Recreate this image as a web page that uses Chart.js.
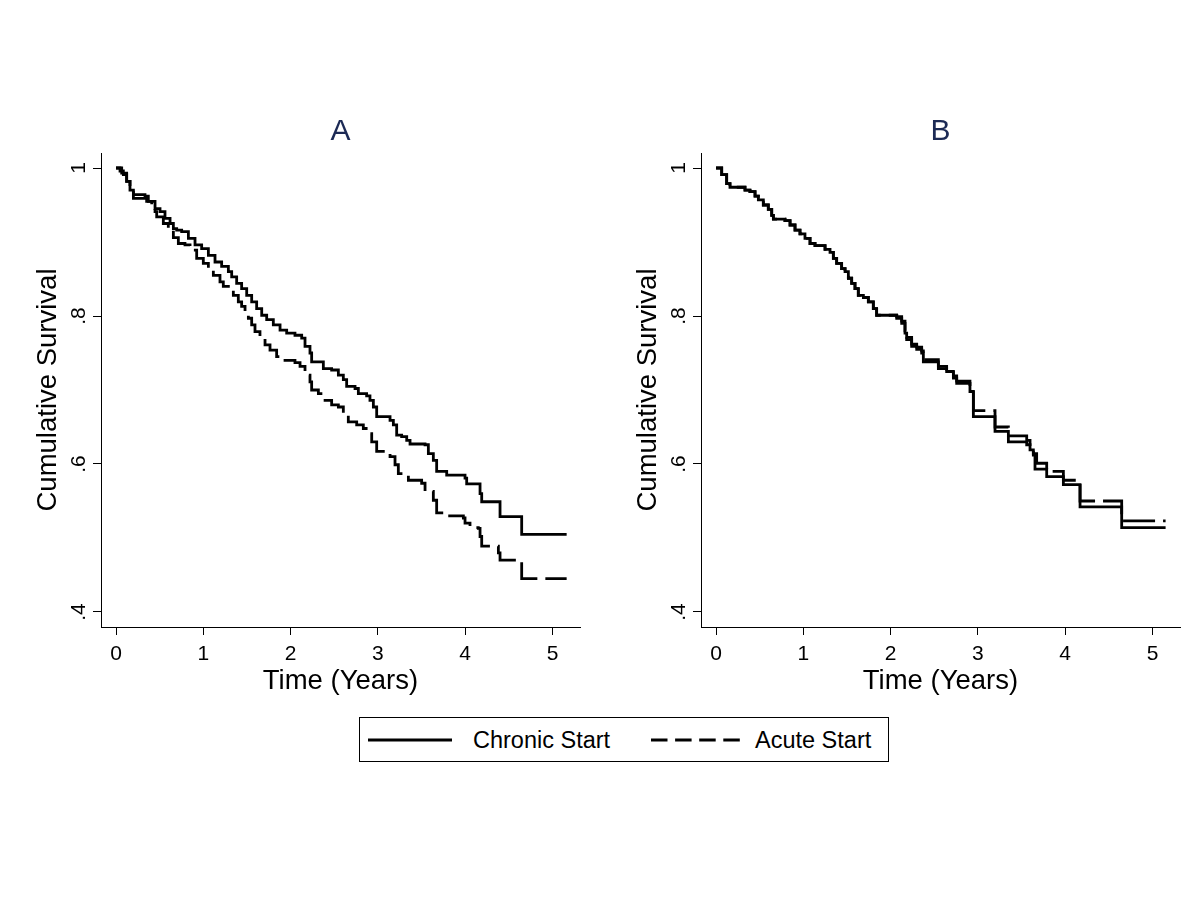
<!DOCTYPE html>
<html>
<head>
<meta charset="utf-8">
<script src="https://cdn.jsdelivr.net/npm/chart.js@4/dist/chart.umd.min.js"></script>
<style>
  html, body { margin:0; padding:0; background:#fff; }
  body { width:1200px; height:900px; position:relative; overflow:hidden; font-family:'Liberation Sans', Arial, Helvetica, sans-serif; }
  canvas { position:absolute; top:0; }
  #legend { position:absolute; left:359px; top:717px; width:530px; height:45px; box-sizing:border-box; border:1px solid #000; background:#fff; }
  #legend .txt { position:absolute; top:1px; height:43px; line-height:43px; font-size:23.5px; color:#000; white-space:nowrap; }
  #legend svg { position:absolute; top:0; }
</style>
</head>
<body>
<canvas id="cA" width="600" height="720" style="left:0"></canvas>
<canvas id="cB" width="600" height="720" style="left:600px"></canvas>
<div id="legend">
  <svg width="90" height="43" style="left:8px"><line id="lgSolid" x1="0" y1="22" x2="84" y2="22" stroke="#000" stroke-width="2.8"/></svg>
  <span class="txt" id="lgT1" style="left:113px"></span>
  <svg width="95" height="43" style="left:291px"><line id="lgDash" x1="0" y1="22" x2="89" y2="22" stroke="#000" stroke-width="2.8" stroke-dasharray="16.5 7.6"/></svg>
  <span class="txt" id="lgT2" style="left:395px"></span>
</div>
<script>
// ---------- data ----------
const panelTitles = ['A', 'B'];
const seriesNames = ['Chronic Start', 'Acute Start'];
const xTitle = 'Time (Years)';
const yTitle = 'Cumulative Survival';
const xTicks = [0, 1, 2, 3, 4, 5];
const xTickLabels = ['0', '1', '2', '3', '4', '5'];
const yTicks = [0.4, 0.6, 0.8, 1];
const yTickLabels = ['.4', '.6', '.8', '1'];

// Panel A — Chronic Start
const timeA_chronic = [0,0.065,0.122,0.160,0.199,0.332,0.370,0.447,0.504,0.561,0.619,0.657,0.695,0.752,0.829,0.905,0.981,1.058,1.134,1.210,1.287,1.325,1.382,1.439,1.497,1.554,1.611,1.669,1.726,1.802,1.879,1.955,2.050,2.127,2.165,2.222,2.241,2.375,2.470,2.547,2.604,2.642,2.738,2.776,2.871,2.909,2.948,2.986,3.139,3.177,3.215,3.272,3.330,3.368,3.540,3.578,3.635,3.673,3.788,3.998,4.017,4.170,4.189,4.399,4.647,5.162];
const survA_chronic = [1.000,0.993,0.982,0.970,0.964,0.962,0.955,0.945,0.941,0.932,0.925,0.918,0.916,0.914,0.905,0.896,0.891,0.882,0.873,0.867,0.860,0.853,0.844,0.837,0.828,0.819,0.810,0.801,0.795,0.788,0.781,0.777,0.774,0.770,0.759,0.750,0.738,0.729,0.727,0.720,0.714,0.705,0.702,0.695,0.692,0.686,0.677,0.664,0.659,0.653,0.639,0.637,0.632,0.627,0.626,0.614,0.605,0.590,0.585,0.581,0.573,0.560,0.549,0.529,0.505,0.505];

// Panel A — Acute Start
const timeA_acute = [0,0.046,0.084,0.122,0.160,0.199,0.351,0.409,0.447,0.466,0.542,0.599,0.657,0.714,0.790,0.848,0.924,1.000,1.058,1.115,1.191,1.229,1.287,1.344,1.401,1.439,1.478,1.516,1.554,1.592,1.649,1.707,1.764,1.840,1.936,2.050,2.108,2.165,2.222,2.241,2.318,2.375,2.470,2.547,2.604,2.661,2.757,2.833,2.890,2.929,2.986,3.062,3.139,3.196,3.234,3.291,3.349,3.501,3.540,3.635,3.673,3.788,3.979,3.998,4.055,4.150,4.170,4.189,4.380,4.399,4.647,5.162];
const survA_acute = [1.000,0.996,0.991,0.982,0.973,0.959,0.955,0.948,0.941,0.934,0.925,0.916,0.906,0.898,0.896,0.889,0.878,0.871,0.862,0.855,0.846,0.840,0.835,0.828,0.819,0.813,0.806,0.797,0.788,0.779,0.770,0.761,0.754,0.745,0.740,0.737,0.732,0.720,0.711,0.700,0.695,0.686,0.680,0.677,0.668,0.657,0.653,0.648,0.641,0.630,0.617,0.614,0.610,0.599,0.587,0.585,0.578,0.574,0.563,0.551,0.534,0.530,0.527,0.520,0.514,0.513,0.502,0.489,0.480,0.470,0.445,0.445];

// Panel B — Chronic Start
const timeB_chronic = [0,0.065,0.122,0.160,0.332,0.389,0.447,0.485,0.542,0.599,0.638,0.657,0.790,0.848,0.905,0.962,1.019,1.077,1.134,1.249,1.306,1.344,1.382,1.439,1.478,1.516,1.554,1.592,1.630,1.688,1.745,1.802,1.840,2.070,2.127,2.165,2.184,2.241,2.299,2.356,2.375,2.547,2.642,2.719,2.757,2.909,2.948,3.196,3.349,3.559,3.597,3.635,3.654,3.788,3.979,4.170,4.647,5.150];
const survB_chronic = [1.000,0.991,0.979,0.974,0.970,0.968,0.962,0.957,0.950,0.944,0.936,0.931,0.929,0.923,0.916,0.911,0.905,0.898,0.895,0.890,0.886,0.878,0.871,0.864,0.860,0.851,0.844,0.837,0.828,0.825,0.819,0.810,0.801,0.797,0.790,0.777,0.768,0.759,0.755,0.750,0.738,0.729,0.725,0.716,0.709,0.698,0.664,0.644,0.630,0.626,0.619,0.612,0.593,0.583,0.572,0.542,0.514,0.514];

// Panel B — Acute Start
const timeB_acute = [0,0.065,0.122,0.160,0.332,0.389,0.447,0.485,0.542,0.599,0.638,0.657,0.790,0.848,0.905,0.962,1.019,1.077,1.134,1.249,1.306,1.344,1.382,1.439,1.478,1.516,1.554,1.592,1.630,1.688,1.745,1.802,1.840,2.070,2.127,2.165,2.184,2.241,2.299,2.356,2.375,2.547,2.642,2.719,2.757,2.909,2.948,3.196,3.349,3.559,3.597,3.635,3.673,3.788,3.979,4.150,4.170,4.647,5.150];
const survB_acute = [1.000,0.991,0.979,0.974,0.970,0.968,0.962,0.957,0.950,0.944,0.936,0.931,0.929,0.923,0.916,0.911,0.905,0.898,0.895,0.890,0.886,0.878,0.871,0.864,0.860,0.851,0.844,0.837,0.828,0.825,0.819,0.810,0.801,0.799,0.793,0.780,0.771,0.762,0.758,0.753,0.741,0.732,0.728,0.719,0.712,0.701,0.672,0.650,0.638,0.632,0.623,0.614,0.601,0.590,0.578,0.574,0.550,0.523,0.523];

// ---------- chart ----------
const FONT = "'Liberation Sans', Arial, Helvetica, sans-serif";
Chart.defaults.font.family = FONT;
const X_MIN = -0.172, X_MAX = 5.315, Y_MIN = 0.3797, Y_MAX = 1.0203;

function pts(t, s) { return t.map((x, i) => ({ x: x, y: s[i] })); }

function axisCommon() {
  return {
    grid: { display: true, drawOnChartArea: false, drawTicks: true, tickLength: 8, color: '#000', lineWidth: 1 },
    border: { display: true, color: '#000', width: 1 }
  };
}

function makePanel(id, title, tC, sC, tA, sA) {
  return new Chart(document.getElementById(id), {
    type: 'line',
    data: {
      datasets: [
        { label: seriesNames[0], data: pts(tC, sC), stepped: true, borderColor: '#000', borderWidth: 2.8, pointRadius: 0, fill: false },
        { label: seriesNames[1], data: pts(tA, sA), stepped: true, borderColor: '#000', borderWidth: 2.8, borderDash: [32, 8], pointRadius: 0, fill: false }
      ]
    },
    options: {
      responsive: false,
      animation: false,
      devicePixelRatio: 1,
      layout: { padding: { left: 0, right: 20, top: 0, bottom: 0 } },
      plugins: {
        legend: { display: false },
        tooltip: { enabled: false },
        title: { display: true, text: title, color: '#1c2a55', fullSize: false,
                 font: { family: FONT, size: 30, weight: 'normal' }, padding: { top: 114, bottom: 3 } }
      },
      scales: {
        x: Object.assign(axisCommon(), {
          type: 'linear', min: X_MIN, max: X_MAX,
          afterBuildTicks: s => { s.ticks = xTicks.map(v => ({ value: v })); },
          afterFit: s => { s.height = 93; },
          ticks: { color: '#000', font: { size: 21 }, padding: 7, autoSkip: false, minRotation: 0, maxRotation: 0,
                   callback: (v, i) => xTickLabels[i] },
          title: { display: true, text: xTitle, color: '#000', font: { size: 27.5 }, padding: { top: 0, bottom: 22 } }
        }),
        y: Object.assign(axisCommon(), {
          type: 'linear', min: Y_MIN, max: Y_MAX,
          afterBuildTicks: s => { s.ticks = yTicks.map(v => ({ value: v })); },
          afterFit: s => { s.width = 101; },
          ticks: { color: '#000', font: { size: 21 }, padding: 5, autoSkip: false, minRotation: 90, maxRotation: 90,
                   crossAlign: 'center', callback: (v, i) => yTickLabels[i] },
          title: { display: true, text: yTitle, color: '#000', font: { size: 27.5 }, padding: { top: 32, bottom: 0 } }
        })
      }
    }
  });
}

makePanel('cA', panelTitles[0], timeA_chronic, survA_chronic, timeA_acute, survA_acute);
makePanel('cB', panelTitles[1], timeB_chronic, survB_chronic, timeB_acute, survB_acute);

document.getElementById('lgT1').textContent = seriesNames[0];
document.getElementById('lgT2').textContent = seriesNames[1];
</script>
</body>
</html>
